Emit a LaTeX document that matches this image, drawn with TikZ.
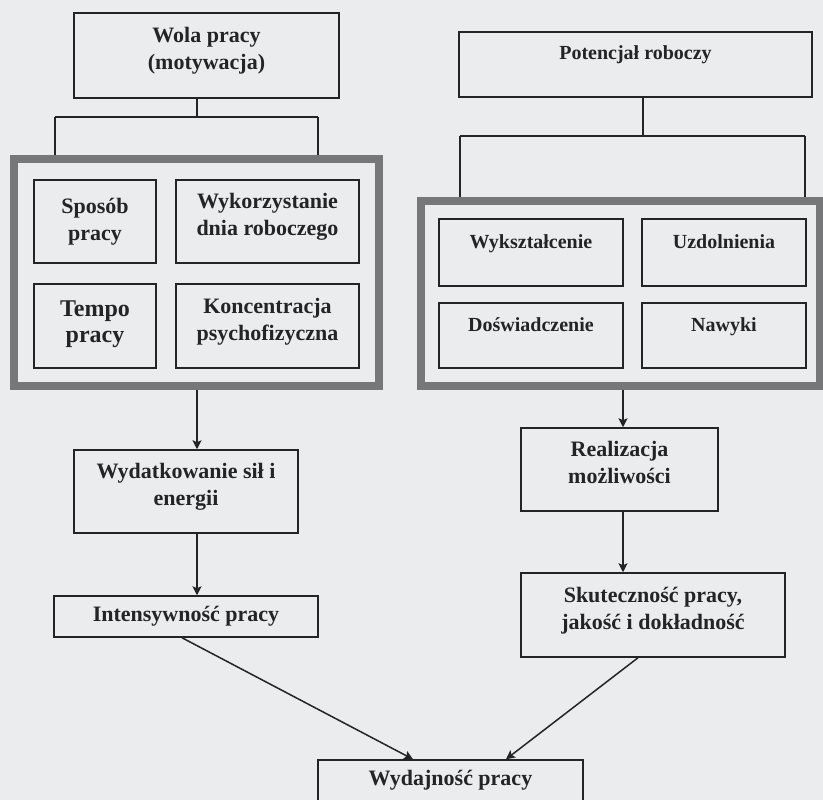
\documentclass[tikz,border=0pt]{standalone}
\usepackage{fontspec}
\setmainfont{Liberation Serif}
\usetikzlibrary{arrows.meta}

\definecolor{scanbg}{RGB}{234,236,238}
\definecolor{framegray}{RGB}{118,119,121}
\definecolor{inkline}{RGB}{34,36,38}

\tikzset{every picture/.style={line width=1.5pt}}
\tikzset{
  box/.style={draw=inkline, line width=1.5pt, rectangle, inner sep=2pt, align=center,
    font=\bfseries\fontsize{22}{27}\selectfont, text=inkline},
  twoline/.style={text height=40pt, text depth=12pt},
  smallbox/.style={box, font=\bfseries\fontsize{20}{25}\selectfont, text height=14pt, text depth=23pt},
  groupframe/.style={draw=framegray, line width=8pt, rectangle, inner sep=0pt},
  link/.style={draw=inkline, line width=1.5pt},
  arrowlink/.style={link, -{Stealth[length=9pt,width=9pt,inset=2pt]}}
}

\begin{document}
\begin{tikzpicture}[x=1pt,y=1pt,yscale=-1,xscale=1]
\useasboundingbox (0,0) rectangle (823,800);
\clip (0,0) rectangle (823,800);
\fill [scanbg] (0,0) rectangle (823,800);

%Left column
\node (wola) [box, twoline, minimum width=265, minimum height=85] at (206.5,55.5) {Wola pracy\\(motywacja)};
\node (lframe) [groupframe, minimum width=365, minimum height=227] at (196.5,272.5) {};
\node (sposob) [box, minimum width=122, minimum height=83] at (95,221.5) {Sposób\\pracy};
\node (wykorz) [box, twoline, minimum width=183, minimum height=83] at (267.5,221.5) {Wykorzystanie\\dnia roboczego};
\node (tempo) [box, font=\bfseries\fontsize{24}{26}\selectfont, text height=42pt, text depth=9pt, minimum width=122, minimum height=84] at (95,326) {Tempo\\pracy};
\node (koncent) [box, twoline, minimum width=183, minimum height=84] at (267.5,326) {Koncentracja\\psychofizyczna};
\node (wydatk) [box, twoline, minimum width=224, minimum height=83] at (186,491.5) {Wydatkowanie sił i\\energii};
\node (intens) [box, minimum width=264, minimum height=41] at (186,616.5) {Intensywność pracy};

%Right column
\node (poten) [smallbox, minimum width=353, minimum height=65] at (635.5,64.5) {Potencjał roboczy};
\node (rframe) [groupframe, minimum width=399, minimum height=185] at (620.5,293.5) {};
\node (wykszt) [smallbox, minimum width=184, minimum height=67] at (531,252.5) {Wykształcenie};
\node (uzdol) [smallbox, minimum width=164, minimum height=67] at (724,252.5) {Uzdolnienia};
\node (doswiad) [smallbox, minimum width=184, minimum height=65] at (531,335.5) {Doświadczenie};
\node (nawyki) [smallbox, minimum width=164, minimum height=65] at (724,335.5) {Nawyki};
\node (realiz) [box, twoline, minimum width=197, minimum height=83] at (619.5,469.5) {Realizacja\\możliwości};
\node (skutecz) [box, twoline, minimum width=264, minimum height=84] at (653,615) {Skuteczność pracy,\\jakość i dokładność};

%Result
\node (wydajn) [box, minimum width=265, minimum height=41] at (450.5,780.5) {Wydajność pracy};

%Columns of the vertical links
\coordinate (colL) at (197,0);
\coordinate (colR) at (643,0);
\coordinate (colR2) at (623,0);

%Fork under Wola pracy
\coordinate (lforka) at (55,117);
\coordinate (lforkb) at (318,117);
\draw [link] (wola.south -| colL) -- (lforka -| colL);
\draw [link] (lforka) -- (lforkb);
\draw [link] (lforka) -- (lforka |- lframe.north);
\draw [link] (lforkb) -- (lforkb |- lframe.north);

%Fork under Potencjal roboczy
\coordinate (rforka) at (460,136);
\coordinate (rforkb) at (805,136);
\draw [link] (poten.south -| colR) -- (rforka -| colR);
\draw [link] (rforka) -- (rforkb);
\draw [link] (rforka) -- (rforka |- rframe.north);
\draw [link] (rforkb) -- (rforkb |- rframe.north);

%Arrows
\draw [arrowlink] (lframe.south -| colL) -- (wydatk.north -| colL);
\draw [arrowlink] (wydatk.south -| colL) -- (intens.north -| colL);
\draw [arrowlink] (rframe.south -| colR2) -- (realiz.north -| colR2);
\draw [arrowlink] (realiz.south -| colR2) -- (skutecz.north -| colR2);
\draw [arrowlink] ([xshift=-4pt]intens.south) -- ([xshift=-37.5pt]wydajn.north);
\draw [arrowlink] ([xshift=-15pt]skutecz.south) -- ([xshift=55.5pt]wydajn.north);

\end{tikzpicture}
\end{document}
